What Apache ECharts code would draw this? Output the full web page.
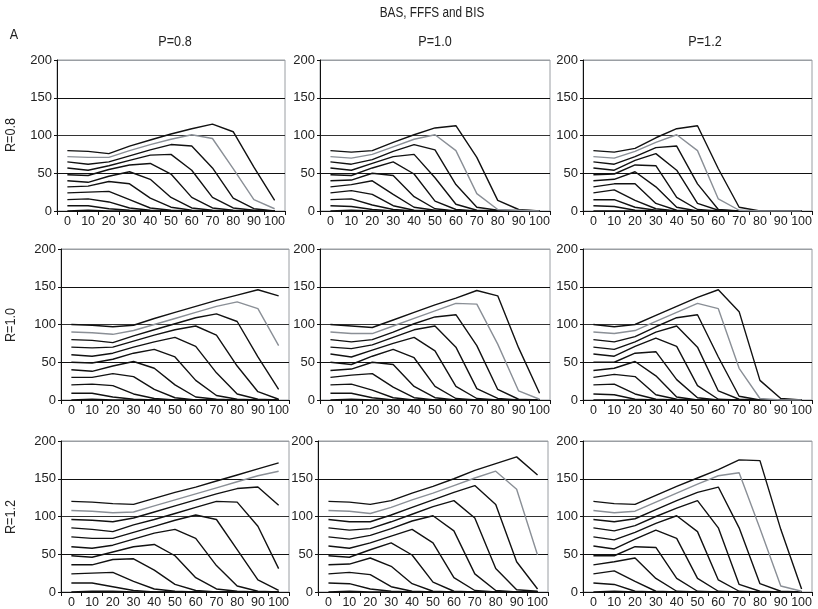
<!DOCTYPE html>
<html>
<head>
<meta charset="utf-8">
<script src="https://cdn.jsdelivr.net/npm/echarts@6/dist/echarts.min.js"></script>
<style>html,body{margin:0;padding:0;background:#fff}#c{width:818px;height:609px}</style>
</head>
<body>
<div id="c"></div>
<script>
// ---- data ----
const xCats = ['0','10','20','30','40','50','60','70','80','90','100'];
const yMin = 0, yMax = 200, yStep = 50;
const colTitles = ['P=0.8','P=1.0','P=1.2'];
const rowTitles = ['R=0.8','R=1.0','R=1.2'];
const mainTitle = 'BAS, FFFS and BIS';
const panelTag = 'A';

// each panel: 11 lines, top line first; line index 1 is the grey one
const r08p08 = [
  [80,79,76,86,94,102,109,115,105,58,14],
  [72,71,71,80,88,95,101,96,56,15,3],
  [65,62,65,73,81,88,86,57,17,3,0],
  [57,54,60,67,74,75,54,18,4,1,0],
  [48,47,55,61,63,49,18,4,1,0,0],
  [40,38,46,52,42,18,4,1,0,0,0],
  [32,33,39,36,17,5,1,0,0,0,0],
  [24,25,26,15,4,1,0,0,0,0,0],
  [15,16,12,4,1,0,0,0,0,0,0],
  [7,7,3,1,0,0,0,0,0,0,0],
  [0,1,0,0,0,0,0,0,0,0,0]
];
const r08p10 = [
  [80,78,80,91,101,110,113,71,14,2,0],
  [72,70,75,85,95,101,80,23,2,1,0],
  [65,62,68,79,88,81,35,5,1,0,0],
  [57,54,63,72,75,44,9,1,0,0,0],
  [48,47,57,65,49,13,2,0,0,0,0],
  [40,41,50,47,19,3,0,0,0,0,0],
  [32,35,40,22,5,1,0,0,0,0,0],
  [24,27,22,7,1,0,0,0,0,0,0],
  [15,16,8,2,0,0,0,0,0,0,0],
  [7,6,2,0,0,0,0,0,0,0,0],
  [0,1,0,0,0,0,0,0,0,0,0]
];
const r08p12 = [
  [80,78,83,97,109,113,56,5,0,0,0],
  [72,70,79,91,101,80,16,1,0,0,0],
  [65,62,72,84,86,36,2,0,0,0,0],
  [57,54,67,76,54,10,1,0,0,0,0],
  [48,49,61,60,18,2,0,0,0,0,0],
  [40,42,52,32,5,0,0,0,0,0,0],
  [32,36,36,10,1,0,0,0,0,0,0],
  [24,28,14,3,0,0,0,0,0,0,0],
  [15,15,5,1,0,0,0,0,0,0,0],
  [7,6,1,0,0,0,0,0,0,0,0],
  [0,0,0,0,0,0,0,0,0,0,0]
];
const r10p08 = [
  [100,99,97,99,108,116,124,132,139,146,138],
  [90,89,87,92,100,108,116,124,130,121,72],
  [80,79,76,85,93,101,109,114,104,57,14],
  [70,69,70,78,86,93,98,86,45,11,1],
  [60,58,62,70,77,83,71,36,8,1,0],
  [50,49,54,62,67,57,26,6,1,0,0],
  [40,38,45,51,42,20,4,1,0,0,0],
  [30,30,35,31,14,3,0,0,0,0,0],
  [20,21,19,8,2,0,0,0,0,0,0],
  [9,9,4,1,0,0,0,0,0,0,0],
  [0,1,0,0,0,0,0,0,0,0,0]
];
const r10p10 = [
  [100,98,96,106,116,126,135,145,138,69,9],
  [90,88,88,98,108,118,128,127,74,12,1],
  [80,77,80,90,101,110,113,72,14,1,0],
  [70,68,73,83,93,98,70,15,2,0,0],
  [61,57,66,75,83,65,18,2,0,0,0],
  [50,47,58,67,56,18,2,0,0,0,0],
  [39,41,50,47,18,3,0,0,0,0,0],
  [30,33,35,17,3,0,0,0,0,0,0],
  [20,21,13,3,0,0,0,0,0,0,0],
  [9,9,3,0,0,0,0,0,0,0,0],
  [0,1,0,0,0,0,0,0,0,0,0]
];
const r10p12 = [
  [100,97,100,112,124,136,146,117,26,2,0],
  [90,88,92,104,116,128,121,42,2,0,0],
  [80,77,84,97,109,113,57,5,0,0,0],
  [70,67,77,90,98,70,12,1,0,0,0],
  [61,58,71,82,71,19,1,0,0,0,0],
  [50,50,62,64,27,3,0,0,0,0,0],
  [39,42,51,32,4,0,0,0,0,0,0],
  [30,34,31,7,1,0,0,0,0,0,0],
  [20,21,8,1,0,0,0,0,0,0,0],
  [8,7,1,0,0,0,0,0,0,0,0],
  [0,0,0,0,0,0,0,0,0,0,0]
];
const r12p08 = [
  [120,119,117,116,124,132,139,147,155,163,171],
  [108,107,105,106,114,122,130,138,146,154,160],
  [96,95,93,98,106,114,122,130,137,139,115],
  [85,83,80,89,96,104,112,120,119,87,31],
  [73,71,71,79,87,95,102,96,56,16,2],
  [60,58,62,70,78,83,71,35,8,1,0],
  [48,46,53,60,63,48,19,4,1,0,0],
  [36,36,43,44,29,10,2,0,0,0,0],
  [24,25,26,14,4,1,0,0,0,0,0],
  [12,12,7,2,0,0,0,0,0,0,0],
  [0,1,1,0,0,0,0,0,0,0,0]
];
const r12p10 = [
  [120,119,116,121,131,140,150,161,170,179,155],
  [108,107,104,112,122,131,141,151,160,136,49],
  [96,93,93,102,112,122,132,141,116,40,4],
  [85,82,84,93,103,113,121,98,31,3,1],
  [73,70,75,84,94,101,81,24,2,0,0],
  [61,58,65,74,83,65,19,2,0,0,0],
  [48,46,56,65,49,13,1,0,0,0,0],
  [36,37,45,34,11,1,0,0,0,0,0],
  [24,26,23,7,1,0,0,0,0,0,0],
  [12,11,4,1,0,0,0,0,0,0,0],
  [0,1,0,0,0,0,0,0,0,0,0]
];
const r12p12 = [
  [120,117,116,128,140,151,162,175,174,83,4],
  [108,105,107,119,131,143,154,158,84,8,1],
  [96,93,97,109,121,132,139,85,11,1,0],
  [85,81,88,100,111,121,85,10,1,0,0],
  [73,69,79,91,101,80,16,1,0,0,0],
  [61,57,70,82,71,18,1,0,0,0,0],
  [48,48,60,59,18,1,0,0,0,0,0],
  [36,40,45,18,1,0,0,0,0,0,0],
  [24,28,14,1,0,0,0,0,0,0,0],
  [12,10,1,0,0,0,0,0,0,0,0],
  [0,1,0,0,0,0,0,0,0,0,0]
];
const panels = [r08p08, r08p10, r08p12, r10p08, r10p10, r10p12, r12p08, r12p10, r12p12];

// ---- layout ----
const rowTop = [60, 249, 441];
const rowH = 151;
const colLeft = [[57,320,583],[61,320,583],[61,318,583]];
const colW = [[228,230,229],[228,230,229],[228,230,229]];
const FONT = "'Liberation Sans', Arial, sans-serif";

const grids = [], xAxes = [], yAxes = [], series = [];
for (let r = 0; r < 3; r++) {
  for (let c = 0; c < 3; c++) {
    const i = r * 3 + c;
    grids.push({left: colLeft[r][c], top: rowTop[r], width: colW[r][c], height: rowH,
      show: true, borderColor: '#9a9ea3', borderWidth: 1, backgroundColor: '#fff'});
    xAxes.push({type: 'category', gridIndex: i, data: xCats, boundaryGap: true,
      axisLine: {lineStyle: {color: '#111', width: 1}},
      axisTick: {show: true, length: 4, lineStyle: {color: '#111'}},
      axisLabel: {interval: 0, fontSize: 12.5, color: '#222', margin: 4, fontFamily: FONT}});
    yAxes.push({type: 'value', gridIndex: i, min: yMin, max: yMax, interval: yStep,
      axisLine: {show: true, lineStyle: {color: '#111', width: 1}},
      axisTick: {show: true, length: 3, lineStyle: {color: '#111'}},
      axisLabel: {fontSize: 13, color: '#222', margin: 5, fontFamily: FONT},
      splitLine: {show: true, lineStyle: {color: ['#111','#111','#333','#111','#9a9ea3'], width: 1}}});
    panels[i].forEach((vals, k) => {
      series.push({type: 'line', xAxisIndex: i, yAxisIndex: i, data: vals,
        symbol: 'none', silent: true, z: k === 1 ? 3 : 2,
        lineStyle: {color: k === 1 ? '#8a8f96' : '#111', width: 1.4}});
    });
  }
}

function label(text, x, y, size, rot) {
  return {type: 'text', x: x, y: y, rotation: rot || 0, scaleX: 0.84, scaleY: 1,
    style: {text: text, font: size + 'px ' + FONT, fill: '#222', textAlign: 'center', textVerticalAlign: 'middle'}};
}
const graphics = [label(mainTitle, 432, 13, 14), label(panelTag, 14, 35, 15)];
const colCenters = [175, 435, 705];
colTitles.forEach((t, c) => graphics.push(label(t, colCenters[c], 42, 15)));
const rowCenters = [135, 325, 517];
rowTitles.forEach((t, r) => graphics.push(label(t, 11, rowCenters[r], 15, Math.PI / 2)));

const chart = echarts.init(document.getElementById('c'), null, {renderer: 'canvas'});
chart.setOption({
  animation: false,
  backgroundColor: '#fff',
  grid: grids, xAxis: xAxes, yAxis: yAxes, series: series,
  graphic: graphics
});
</script>
</body>
</html>
